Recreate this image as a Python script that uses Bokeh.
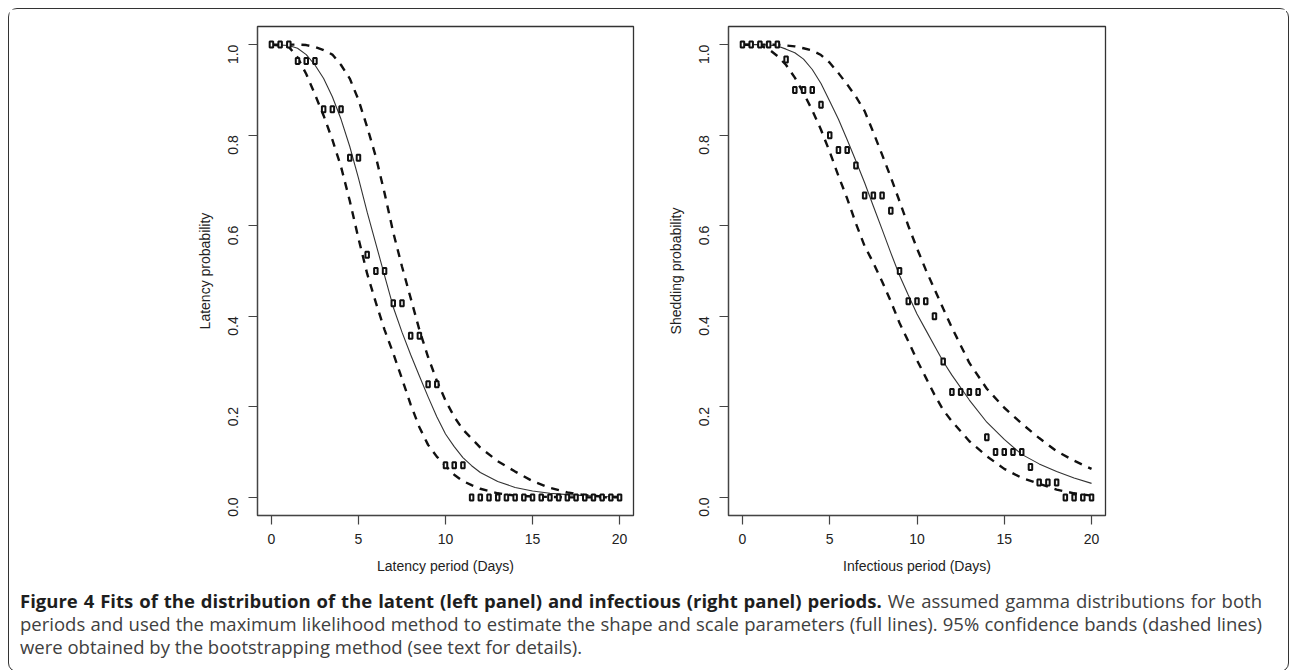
import math
from bokeh.plotting import figure
from bokeh.layouts import row, column
from bokeh.models import Div, FixedTicker, Range1d, ColumnDataSource
from bokeh.embed import file_html
from bokeh.resources import INLINE

# ---------------- data ----------------
obs_days = [0, 0.5, 1, 1.5, 2, 2.5, 3, 3.5, 4, 4.5, 5, 5.5, 6, 6.5, 7, 7.5, 8, 8.5, 9, 9.5,
            10, 10.5, 11, 11.5, 12, 12.5, 13, 13.5, 14, 14.5, 15, 15.5, 16, 16.5, 17, 17.5,
            18, 18.5, 19, 19.5, 20]

latency_prob = [1.0, 1.0, 1.0, 0.964, 0.964, 0.964, 0.857, 0.857, 0.857, 0.75, 0.75, 0.536,
                0.5, 0.5, 0.429, 0.429, 0.357, 0.357, 0.25, 0.25, 0.071, 0.071, 0.071,
                0.0, 0.0, 0.0, 0.0, 0.0, 0.0, 0.0, 0.0, 0.0, 0.0, 0.0, 0.0, 0.0, 0.0, 0.0,
                0.0, 0.0, 0.0]

shedding_prob = [1.0, 1.0, 1.0, 1.0, 1.0, 0.967, 0.9, 0.9, 0.9, 0.867, 0.8, 0.767, 0.767,
                 0.733, 0.667, 0.667, 0.667, 0.633, 0.5, 0.433, 0.433, 0.433, 0.4, 0.3,
                 0.233, 0.233, 0.233, 0.233, 0.133, 0.1, 0.1, 0.1, 0.1, 0.067, 0.033, 0.033,
                 0.033, 0.0, 0.0, 0.0, 0.0]

curve_days = [0, 1, 1.5, 2, 2.5, 3, 3.5, 4, 4.5, 5, 5.5, 6, 6.5, 7, 7.5, 8, 8.5, 9, 9.5, 10,
              10.5, 11, 11.5, 12, 13, 14, 15, 16, 17, 18, 19, 20]

latency_fit = [1.0, 0.998, 0.992, 0.978, 0.955, 0.925, 0.885, 0.835, 0.775, 0.705, 0.63, 0.56,
               0.49, 0.42, 0.365, 0.315, 0.268, 0.222, 0.178, 0.14, 0.112, 0.088, 0.07, 0.055,
               0.035, 0.022, 0.014, 0.009, 0.006, 0.004, 0.002, 0.001]
latency_lower = [1.0, 0.995, 0.972, 0.935, 0.89, 0.843, 0.79, 0.73, 0.655, 0.572, 0.494, 0.43,
                 0.37, 0.318, 0.262, 0.205, 0.155, 0.116, 0.09, 0.07, 0.05, 0.036, 0.027, 0.019,
                 0.009, 0.004, 0.002, 0.001, 0.0, 0.0, 0.0, 0.0]
latency_upper = [1.0, 1.0, 1.0, 0.999, 0.995, 0.988, 0.978, 0.955, 0.925, 0.878, 0.818, 0.752,
                 0.672, 0.585, 0.51, 0.44, 0.37, 0.31, 0.258, 0.214, 0.178, 0.15, 0.13, 0.11,
                 0.08, 0.057, 0.036, 0.021, 0.011, 0.005, 0.002, 0.001]

shedding_fit = [1.0, 1.0, 0.999, 0.997, 0.99, 0.982, 0.968, 0.945, 0.914, 0.875, 0.835, 0.79,
                0.743, 0.695, 0.643, 0.592, 0.54, 0.49, 0.447, 0.405, 0.37, 0.335, 0.3, 0.27,
                0.215, 0.166, 0.128, 0.095, 0.074, 0.057, 0.043, 0.031]
shedding_lower = [1.0, 0.998, 0.99, 0.975, 0.955, 0.927, 0.893, 0.855, 0.812, 0.763, 0.71, 0.66,
                  0.605, 0.555, 0.518, 0.477, 0.433, 0.385, 0.345, 0.303, 0.265, 0.227, 0.193,
                  0.168, 0.124, 0.091, 0.063, 0.043, 0.03, 0.017, 0.009, 0.004]
shedding_upper = [1.0, 1.0, 1.0, 1.0, 0.998, 0.996, 0.992, 0.987, 0.977, 0.96, 0.937, 0.912,
                  0.885, 0.853, 0.806, 0.757, 0.707, 0.654, 0.6, 0.55, 0.503, 0.46, 0.417, 0.375,
                  0.297, 0.24, 0.198, 0.163, 0.131, 0.102, 0.081, 0.063]

x_ticks = [0, 5, 10, 15, 20]
y_ticks = [0.0, 0.2, 0.4, 0.6, 0.8, 1.0]
y_tick_labels = ["0.0", "0.2", "0.4", "0.6", "0.8", "1.0"]

x_titles = ["Latency period (Days)", "Infectious period (Days)"]
y_titles = ["Latency probability", "Shedding probability"]

caption_bold = ("Figure 4 Fits of the distribution of the latent (left panel) and "
                "infectious (right panel) periods.")
caption_lines = [
    " We assumed gamma distributions for both",
    "periods and used the maximum likelihood method to estimate the shape and scale "
    "parameters (full lines). 95% confidence bands (dashed lines)",
    "were obtained by the bootstrapping method (see text for details).",
]

AX_FONT = "Liberation Sans"
AX_COLOR = "#222222"


def make_panel(days, probs, fit, lower, upper, xtitle, ytitle, width, mleft, mright):
    p = figure(width=width, height=576, output_backend="svg", toolbar_location=None,
               x_range=Range1d(-0.8, 20.8), y_range=Range1d(-0.04, 1.04),
               min_border_left=mleft, min_border_right=mright,
               min_border_top=17, min_border_bottom=70,
               background_fill_color="white", border_fill_color="white")
    p.grid.visible = False
    p.outline_line_color = "#333333"
    p.outline_line_width = 1.3

    for ax in (p.xaxis[0], p.yaxis[0]):
        ax.axis_line_color = "#444444"
        ax.axis_line_width = 1.2
        ax.major_tick_line_color = "#444444"
        ax.major_tick_line_width = 1.2
        ax.major_tick_out = 9
        ax.major_tick_in = 0
        ax.minor_tick_line_color = None
        ax.major_label_text_font = AX_FONT
        ax.major_label_text_font_size = "14px"
        ax.major_label_text_color = AX_COLOR
        ax.axis_label_text_font = AX_FONT
        ax.axis_label_text_font_size = "14px"
        ax.axis_label_text_font_style = "normal"
        ax.axis_label_text_color = AX_COLOR

    p.xaxis.ticker = FixedTicker(ticks=x_ticks)
    p.yaxis.ticker = FixedTicker(ticks=y_ticks)
    p.yaxis.major_label_overrides = {t: l for t, l in zip(y_ticks, y_tick_labels)}
    p.yaxis.major_label_orientation = math.pi / 2
    p.xaxis.major_label_standoff = 9
    p.yaxis.major_label_standoff = 15
    p.xaxis.axis_label_standoff = 11
    p.yaxis.axis_label_standoff = 8
    p.xaxis.axis_label = xtitle
    p.yaxis.axis_label = ytitle

    src = ColumnDataSource(dict(x=curve_days, fit=fit, lo=lower, hi=upper))
    p.line("x", "fit", source=src, line_color="#333333", line_width=1.1)
    p.line("x", "lo", source=src, line_color="#111111", line_width=2.4, line_dash="8 7")
    p.line("x", "hi", source=src, line_color="#111111", line_width=2.4, line_dash="8 7")

    pts = ColumnDataSource(dict(x=days, y=probs))
    p.rect("x", "y", source=pts, width=3.5, height=6, width_units="screen",
           height_units="screen", fill_color="white", line_color="#111111", line_width=2.0)
    return p


p1 = make_panel(obs_days, latency_prob, latency_fit, latency_lower, latency_upper,
                x_titles[0], y_titles[0], 644, 248, 20)
p2 = make_panel(obs_days, shedding_prob, shedding_fit, shedding_lower, shedding_upper,
                x_titles[1], y_titles[1], 633, 75, 181)

line_style = ("width:1242px; text-align:justify; text-align-last:justify; "
              "white-space:nowrap;")
caption_html = (
    '<div style="position:relative; top:-1px; padding:0 0 0 6px; '
    'font-family:\'Open Sans\'; font-size:18.5px; line-height:23px; color:#404040;">'
    '<div style="' + line_style + '">'
    '<span style="font-weight:bold; color:#1e1e1e;">' + caption_bold + '</span>'
    + caption_lines[0] + '</div>'
    '<div style="' + line_style + '">' + caption_lines[1] + '</div>'
    '<div style="white-space:nowrap;">' + caption_lines[2] + '</div>'
    '</div>'
)
cap = Div(text=caption_html, width=1277, height=76)

layout = column(row(p1, p2), cap, width=1281,
                styles={"border": "1.5px solid #333333", "border-radius": "9px",
                        "background": "white", "margin": "8px 0 0 8px"})

open("out.html", "w").write(file_html(layout, INLINE))
